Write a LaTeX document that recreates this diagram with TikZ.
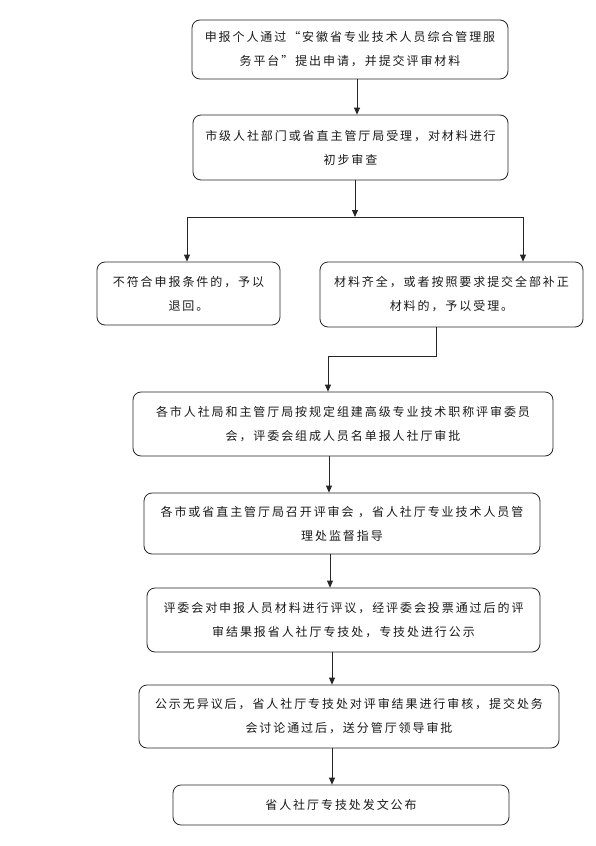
\documentclass[tikz,border=0pt]{standalone}
\usepackage{fontspec}
\setmainfont{Noto Sans CJK SC}[LetterSpace=16]
\usetikzlibrary{arrows.meta}
\tikzset{
  box/.style={draw=black!85, line width=0.8pt, rounded corners=8pt, inner sep=0pt, align=center,
    font=\fontsize{12}{24}\selectfont, text=black!90},
  arr/.style={draw=black!85, line width=0.8pt, -{Triangle[length=7pt,width=6pt]}},
  ln/.style={draw=black!85, line width=0.8pt}
}
\begin{document}
\begin{tikzpicture}[x=1pt,y=-1pt]
\useasboundingbox (0,0) rectangle (595,846);
\node[box, minimum width=316pt, minimum height=59pt] (b1) at (350,49.5)
  {申报个人通过“安徽省专业技术人员综合管理服\\务平台”提出申请，并提交评审材料};
\node[box, minimum width=315pt, minimum height=65pt] (b2) at (350.5,147.5)
  {市级人社部门或省直主管厅局受理，对材料进行\\初步审查};
\node[box, minimum width=183pt, minimum height=63pt] (b3) at (188.5,293.5)
  {不符合申报条件的，予以\\退回。};
\node[box, minimum width=263pt, minimum height=65pt] (b4) at (451.5,294.5)
  {材料齐全，或者按照要求提交全部补正\\材料的，予以受理。};
\node[box, minimum width=420pt, minimum height=64pt] (b5) at (343,424)
  {各市人社局和主管厅局按规定组建高级专业技术职称评审委员\\会，评委会组成人员名单报人社厅审批};
\node[box, minimum width=396pt, minimum height=61pt] (b6) at (342,523.5)
  {各市或省直主管厅局召开评审会 ，省人社厅专业技术人员管\\理处监督指导};
\node[box, minimum width=393pt, minimum height=64pt] (b7) at (343.5,620)
  {评委会对申报人员材料进行评议，经评委会投票通过后的评\\审结果报省人社厅专技处，专技处进行公示};
\node[box, minimum width=420pt, minimum height=63pt] (b8) at (349,716.5)
  {公示无异议后，省人社厅专技处对评审结果进行审核，提交处务\\会讨论通过后，送分管厅领导审批};
\node[box, minimum width=336pt, minimum height=40pt] (b9) at (341,805)
  {省人社厅专技处发文公布};

\draw[arr] (b1.south -| 357,0) -- (b2.north -| 357,0);
\coordinate (j) at (355,217);
\draw[arr] (b2.south -| 355,0) -- (j);
\draw[arr] (j) -| (b3.north -| 187,0);
\draw[arr] (j) -| (b4.north -| 523,0);
\coordinate (k) at (436,356);
\draw[arr] (b4.south -| 436,0) -- (k) -| (b5.north -| 328,0);
\draw[arr] (b5.south -| 329,0) -- (b6.north -| 329,0);
\draw[arr] (b6.south -| 330,0) -- (b7.north -| 330,0);
\draw[arr] (b7.south -| 332,0) -- (b8.north -| 332,0);
\draw[arr] (b8.south -| 332,0) -- (b9.north -| 332,0);
\end{tikzpicture}
\end{document}
